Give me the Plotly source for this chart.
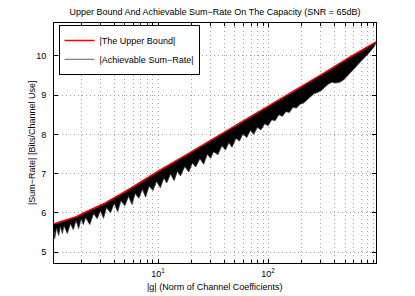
import plotly.graph_objects as go

# Upper bound (red line)
g_upper = [1.135, 1.4, 1.8, 2.2, 3.2, 5.6, 10, 18, 32, 56, 100, 180, 320, 560, 955]
rate_upper = [5.72, 5.80, 5.90, 6.02, 6.23, 6.62, 7.06, 7.475, 7.89, 8.31, 8.73, 9.14, 9.56, 9.98, 10.36]

# Achievable sum-rate: lower edge of the dense jagged trace
g_ach = [1.135, 1.15, 1.2, 1.25, 1.3, 1.35, 1.4, 1.5, 1.6, 1.7, 1.8, 1.9, 2.0, 2.1, 2.2, 2.4, 2.6, 2.8,
         3.0, 3.2, 3.4, 3.7, 4.0, 4.3, 4.6, 5.0, 5.4, 5.8, 6.2, 6.7, 7.2, 7.7, 8.3, 9.0, 9.7, 10.5,
         11.3, 12, 13, 14, 15, 16, 17.5, 19, 20.5, 22, 24, 26, 28, 30, 32, 35, 38, 41, 44, 47, 51,
         55, 59, 64, 69, 74, 80, 86, 93, 100, 108, 116, 125, 135, 145, 156, 168, 181, 195, 210,
         226, 243, 262, 282, 304, 327, 352, 379, 408, 440, 474, 510, 550, 590, 635, 685, 735, 790,
         850, 915, 955]
rate_ach = [5.56, 5.34, 5.62, 5.42, 5.66, 5.47, 5.67, 5.47, 5.72, 5.57, 5.80, 5.60, 5.84, 5.70, 5.88,
            5.70, 5.98, 5.85, 6.05, 5.86, 6.13, 6.00, 6.24, 6.03, 6.31, 6.18, 6.42, 6.21, 6.49, 6.37,
            6.60, 6.40, 6.68, 6.57, 6.80, 6.64, 6.89, 6.76, 6.99, 6.82, 7.06, 6.94, 7.18, 7.04, 7.27,
            7.17, 7.38, 7.24, 7.49, 7.39, 7.56, 7.48, 7.71, 7.60, 7.79, 7.67, 7.90, 7.83, 8.01, 7.92,
            8.10, 8.00, 8.18, 8.11, 8.27, 8.22, 8.37, 8.35, 8.50, 8.46, 8.58, 8.56, 8.69, 8.67, 8.77,
            8.80, 8.88, 8.96, 9.04, 9.07, 9.12, 9.20, 9.28, 9.33, 9.31, 9.32, 9.37, 9.45, 9.56, 9.66,
            9.74, 9.84, 9.92, 10.02, 10.12, 10.23, 10.33]

x_tickvals = [10, 100]
x_ticktext = ["10<sup>1</sup>", "10<sup>2</sup>"]
x_minor_tickvals = [2, 3, 4, 5, 6, 7, 8, 9, 20, 30, 40, 50, 60, 70, 80, 90,
                    200, 300, 400, 500, 600, 700, 800, 900]
y_tickvals = [5, 6, 7, 8, 9, 10]

FONT = "Liberation Sans, Arial, sans-serif"
# the page body adds an 8px offset, so the figure is laid out 8px smaller
OFF = 8
W, H = 415 - OFF, 296 - OFF
L, R, T, B = 54 - OFF, 39, 23 - OFF, 33
PW, PH = W - L - R, H - T - B
GRID = dict(showgrid=True, gridcolor="#a0a0a0", griddash="1px,3px", gridwidth=1)

fig = go.Figure()
# band upper edge (invisible)
fig.add_trace(go.Scatter(x=g_upper, y=rate_upper, mode="lines",
                         line=dict(width=0, color="black"), showlegend=False, hoverinfo="skip"))
# band filled down to jagged lower edge
fig.add_trace(go.Scatter(x=g_ach, y=rate_ach, mode="lines", fill="tonexty",
                         fillcolor="black", line=dict(width=0.7, color="#303030"),
                         showlegend=False, hoverinfo="skip"))
fig.add_trace(go.Scatter(x=g_upper, y=rate_upper, mode="lines", name="|The Upper Bound|",
                         line=dict(width=1.5, color="#ff0000")))
fig.add_trace(go.Scatter(x=[None], y=[None], mode="lines", name="|Achievable Sum\u2212Rate|",
                         line=dict(width=1.2, color="#808080")))

fig.update_layout(
    width=W, height=H,
    margin=dict(l=L, r=R, t=T, b=B),
    paper_bgcolor="white", plot_bgcolor="white",
    font=dict(family=FONT, size=9, color="black"),
    title=dict(text="Upper Bound And Achievable Sum\u2212Rate On The Capacity (SNR = 65dB)",
               x=(L + PW / 2) / W, xanchor="center", y=1 - (12 - OFF) / H, yanchor="middle",
               font=dict(size=9)),
    legend=dict(x=0.014, y=0.992, xanchor="left", yanchor="top", bgcolor="white",
                bordercolor="black", borderwidth=1, font=dict(size=9),
                traceorder="normal", tracegroupgap=0, itemwidth=30),
    showlegend=True,
    annotations=[
        dict(text="|g| (Norm of Channel Coefficients)", xref="paper", yref="paper",
             x=0.5, y=-24 / PH, xanchor="center", yanchor="middle",
             showarrow=False, font=dict(size=9)),
        dict(text="|Sum\u2212Rate| [Bits/Channel Use]", xref="paper", yref="paper",
             x=-22 / PW, y=0.5, xanchor="center", yanchor="middle",
             textangle=-90, showarrow=False, font=dict(size=9)),
    ],
)
fig.update_xaxes(type="log", range=[0.055, 2.98],
                 tickmode="array", tickvals=x_tickvals, ticktext=x_ticktext,
                 ticks="inside", ticklen=4, tickcolor="black", tickwidth=1,
                 showline=True, linecolor="black", linewidth=1, mirror="allticks",
                 minor=dict(tickmode="array", tickvals=x_minor_tickvals, ticks="inside",
                            ticklen=3, tickcolor="black", **GRID),
                 zeroline=False, ticklabelstandoff=2, **GRID)
fig.update_yaxes(range=[4.72, 10.84], tickvals=y_tickvals,
                 ticks="inside", ticklen=4, tickcolor="black", tickwidth=1,
                 showline=True, linecolor="black", linewidth=1, mirror="allticks",
                 zeroline=False, ticklabelstandoff=5, **GRID)

fig.write_html("out.html")
